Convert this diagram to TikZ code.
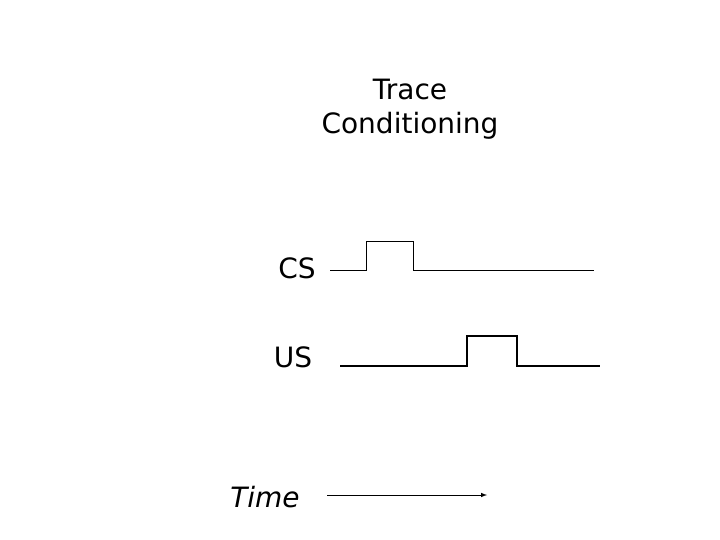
\documentclass[tikz,border=0pt]{standalone}
\usepackage{fontspec}
\setmainfont{DejaVu Sans}
\begin{document}
\begin{tikzpicture}[x=1pt,y=-1pt,
  lbl/.style={inner sep=0pt,font=\fontsize{28}{34}\selectfont},
  thinwave/.style={line width=0.9pt},
  thickwave/.style={line width=1.8pt}]
\useasboundingbox (0,0) rectangle (720,540);
\node[lbl,align=center] (title) at (410,109) {Trace\\Conditioning};
\node[lbl] (cs) at (297,268) {CS};
\node[lbl] (us) at (293,357) {US};
\node[lbl,font=\fontsize{28}{34}\selectfont\itshape] (time) at (265,497) {Time};
\coordinate (c0) at (330,270); \coordinate (c1) at (594,270);
\draw[thinwave] (c0) -- (366,270) -- (366,241) -- (413,241) -- (413,270) -- (c1);
\coordinate (u0) at (340,366); \coordinate (u1) at (600,366);
\draw[thickwave] (u0) -- (467,366) -- (467,336) -- (517,336) -- (517,366) -- (u1);
\coordinate (t0) at (327,495); \coordinate (t1) at (487,495);
\draw[line width=1pt,-latex] (t0) -- (t1);
\end{tikzpicture}
\end{document}
